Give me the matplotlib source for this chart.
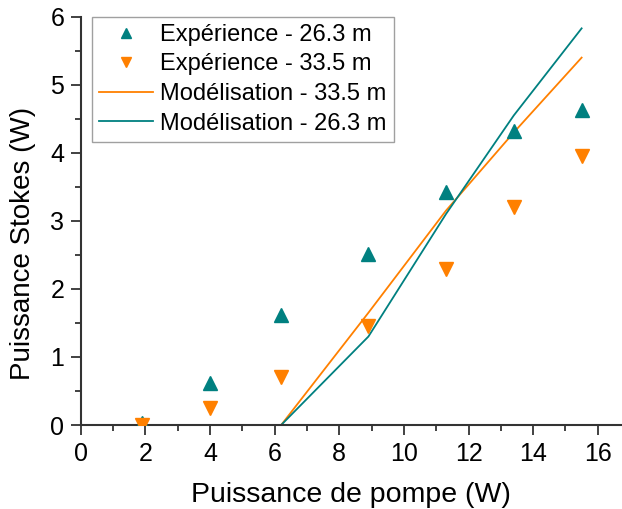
import matplotlib
matplotlib.use("Agg")
import matplotlib.pyplot as plt
from matplotlib.ticker import MultipleLocator

plt.rcParams['font.family'] = ['Liberation Sans', 'DejaVu Sans']

x_exp = [1.9, 4.0, 6.2, 8.9, 11.3, 13.4, 15.5]
y_exp_263 = [0.03, 0.62, 1.62, 2.52, 3.42, 4.32, 4.63]
y_exp_335 = [0.0, 0.25, 0.70, 1.45, 2.30, 3.20, 3.95]

x_mod = [1.9, 4.0, 6.2, 8.9, 11.3, 13.4, 15.5]
y_mod_335 = [0.0, 0.0, 0.0, 1.65, 3.15, 4.30, 5.40]
y_mod_263 = [0.0, 0.0, 0.0, 1.30, 3.10, 4.55, 5.83]

teal = '#008080'
orange = '#ff8000'

fig = plt.figure(figsize=(6.22, 5.09), dpi=100)
ax = fig.add_axes([0.130, 0.165, 0.870, 0.802])

ax.plot(x_exp, y_exp_263, linestyle='none', marker='^', color=teal, markersize=10,
        label='Expérience - 26.3 m', zorder=3)
ax.plot(x_exp, y_exp_335, linestyle='none', marker='v', color=orange, markersize=10,
        label='Expérience - 33.5 m', zorder=3)
ax.plot(x_mod, y_mod_335, color=orange, lw=1.3, label='Modélisation - 33.5 m')
ax.plot(x_mod, y_mod_263, color=teal, lw=1.3, label='Modélisation - 26.3 m')

ax.set_xlim(0, 16.75)
ax.set_ylim(0, 6)
ax.spines['top'].set_visible(False)
ax.spines['right'].set_visible(False)
for s in ('left', 'bottom'):
    ax.spines[s].set_color('#333333')
    ax.spines[s].set_linewidth(1.5)

ax.xaxis.set_major_locator(MultipleLocator(2))
ax.xaxis.set_minor_locator(MultipleLocator(1))
ax.yaxis.set_major_locator(MultipleLocator(1))
ax.yaxis.set_minor_locator(MultipleLocator(0.5))
ax.tick_params(which='major', direction='out', length=7, width=1.3, color='#333333',
               labelsize=18, pad=5)
ax.tick_params(which='minor', direction='out', length=4, width=1.3, color='#333333')

ax.set_xlabel('Puissance de pompe (W)', fontsize=20.5, labelpad=12)
ax.set_ylabel('Puissance Stokes (W)', fontsize=20)
ax.yaxis.set_label_coords(-0.083, 0.445)

leg = ax.legend(loc='upper left', bbox_to_anchor=(0.02, 1.0), fontsize=17,
                frameon=True, fancybox=False, edgecolor='#888888',
                handlelength=2.3, handletextpad=0.3, labelspacing=0.32,
                borderpad=0.3, borderaxespad=0.0, markerscale=0.75)
leg.get_frame().set_linewidth(1.0)

fig.savefig('out.png', dpi=100)
